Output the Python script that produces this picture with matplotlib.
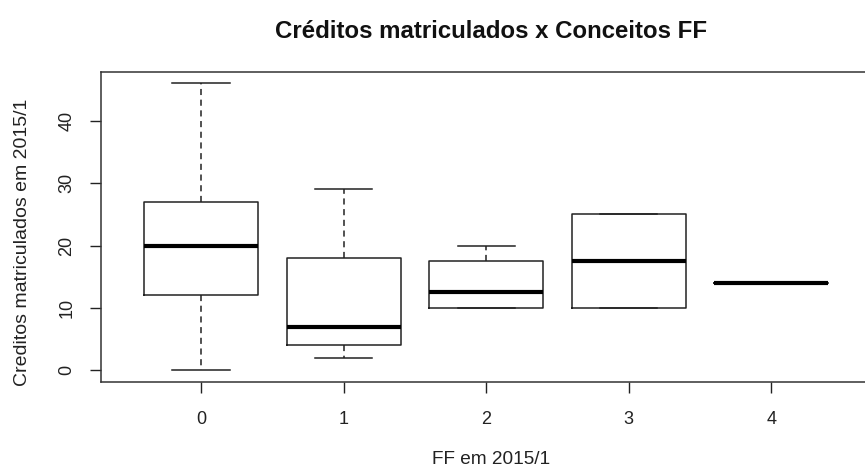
import matplotlib.pyplot as plt

# resumo por conceito FF (min, Q1, mediana, Q3, max)
conceitos = ['0', '1', '2', '3', '4']
minimos = [0, 2, 10, 10, 14]
q1 = [12, 4, 10, 10, 14]
medianas = [20, 7, 12.5, 17.5, 14]
q3 = [27, 18, 17.5, 25, 14]
maximos = [46, 29, 20, 25, 14]

plt.rcParams['font.family'] = ['Liberation Sans', 'DejaVu Sans']

fig = plt.figure(figsize=(8.65, 4.75), dpi=100)
ax = fig.add_axes([0.117, 0.196, 0.89, 0.653])

stats = []
for i in range(len(conceitos)):
    stats.append({'label': conceitos[i], 'whislo': minimos[i], 'q1': q1[i],
                  'med': medianas[i], 'q3': q3[i], 'whishi': maximos[i]})

ax.bxp(stats, positions=range(1, 6), widths=0.8, showfliers=False,
       boxprops=dict(color='#222222', linewidth=1.1),
       medianprops=dict(color='black', linewidth=3.0, solid_capstyle='butt'),
       whiskerprops=dict(color='#222222', linewidth=1.1, linestyle=(0, (4, 3))),
       capprops=dict(color='#222222', linewidth=1.1),
       capwidths=0.4)

ax.set_xlim(0.3, 5.7)
ax.set_ylim(-1.84, 47.84)
ax.set_yticks([0, 10, 20, 30, 40])
ax.set_yticklabels(['0', '10', '20', '30', '40'], rotation=90, va='center',
                   fontsize=13)
ax.set_xticks(range(1, 6))
ax.set_xticklabels(conceitos, fontsize=13)
ax.tick_params(direction='out', length=8, width=1, colors='#222222')
ax.tick_params(axis='x', pad=13)
ax.tick_params(axis='y', pad=10.5)
for s in ax.spines.values():
    s.set_color('#333333')
    s.set_linewidth(1.1)

fig.text(0.568, 0.024, 'FF em 2015/1', ha='center', va='baseline',
         fontsize=13.7, color='#222222')
fig.text(0.026, 0.49, 'Creditos matriculados em 2015/1', ha='center',
         va='center', rotation=90, fontsize=14, color='#222222')
fig.text(0.568, 0.934, 'Créditos matriculados x Conceitos FF', ha='center',
         va='center', fontsize=17.3, fontweight='bold', color='#111111')

fig.savefig('out.png', dpi=100)
